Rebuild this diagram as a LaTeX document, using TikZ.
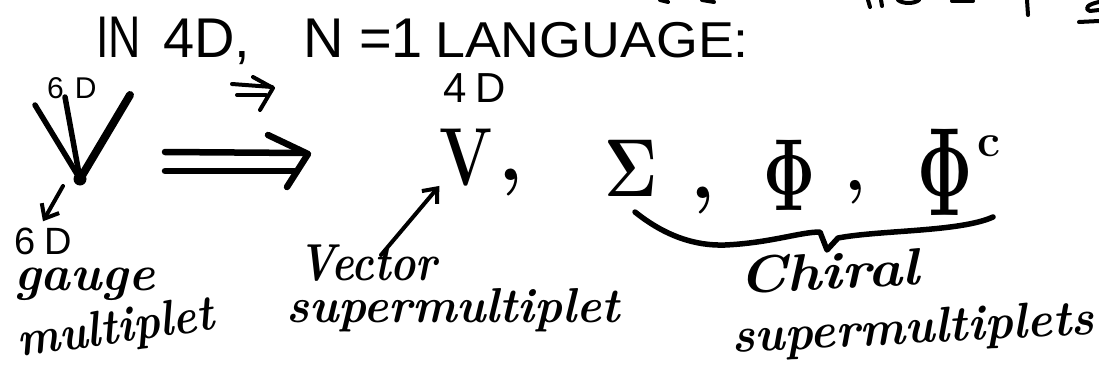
\documentclass[tikz,border=0pt]{standalone}
\usepackage{fontspec}
\usepackage{graphicx}
\setmainfont{Latin Modern Roman}
\newfontfamily\capsfont{Liberation Sans}
\usetikzlibrary{arrows.meta}
\tikzset{
  ink/.style={line width=5.5pt, line cap=round, line join=round},
  heavy/.style={line width=6.5pt, line cap=round, line join=round},
  thin ink/.style={line width=4pt, line cap=round, line join=round},
  barb/.style={-{Straight Barb[length=12pt,width=20pt,line width=4pt]}},
  caps/.style={font=\capsfont\fontsize{56}{60}\selectfont, inner sep=0pt, anchor=base west},
  hand/.style={font=\bfseries\itshape\fontsize{50}{54}\selectfont, inner sep=0pt, anchor=base west},
  sym/.style={inner sep=0pt, anchor=base}
}
\begin{document}
\begin{tikzpicture}[x=1pt,y=-1pt]
\useasboundingbox (0,0) rectangle (1099,369);

% cut-off strokes of a line above the picture
\draw[thin ink] (660,0) -- (668,2);
\draw[thin ink] (702,0) -- (714,2);
\draw[thin ink] (868,0) -- (870,7);
\draw[thin ink] (881,0) -- (882,6);
\draw[thin ink] (898,0) .. controls (903,4) and (914,4) .. (919,0);
\draw[thin ink] (952,1) -- (973,1);
\draw[thin ink] (1027,0) -- (1028,15);
\draw[thin ink] (1099,2) .. controls (1089,4) and (1083,8) .. (1090,11) -- (1099,10);
\draw[thin ink] (1079,22) -- (1099,21);

% title line
\node[caps] (tIN) at (96,58) {\scalebox{0.8}[1.05]{IN}};
\node[caps] (t4D) at (163,58) {4D,};
\node[caps] (tN) at (303,58) {N =1};
\node[caps] (tLang) at (435,58) {\scalebox{0.96}[0.9]{LANGUAGE:}};

% 6D vector figure
\node[caps, font=\capsfont\fontsize{30}{32}\selectfont] (six) at (47,98) {6\hspace{11pt}D};
\coordinate (vdot) at (80,179);
\draw[ink] (35,105) -- (vdot);
\draw[ink] (65,97) -- (vdot);
\draw[line width=8pt, line cap=round] (130,95) -- (vdot);
\fill (vdot) circle (6.5pt);

% small implies sign
\draw[thin ink] (232,84) -- (272,87);
\draw[thin ink] (237,95) -- (266,95);
\draw[thin ink] (253,77) -- (273,88) -- (260,110);

% big implies arrow
\coordinate (bigR) at (308,154);
\draw[heavy] (165,152) -- (304,153);
\draw[heavy] (165,171) -- (297,171);
\draw[heavy] (268,135) -- (bigR) -- (287,187);

% 4D side
\node[caps, font=\capsfont\fontsize{42}{44}\selectfont] (fourD) at (443,102) {4\hspace{9pt}D};
\node[sym, font=\bfseries\fontsize{80}{84}\selectfont] (V4) at (466,185) {\scalebox{0.78}[1.03]{V}};
\node[sym, font=\bfseries\fontsize{80}{84}\selectfont] (c1) at (511,180) {,};
\node[sym, font=\bfseries\fontsize{82}{86}\selectfont] (Sig) at (631,196) {\scalebox{0.8}[1]{Σ}};
\node[sym, font=\bfseries\fontsize{80}{84}\selectfont] (c2) at (703,198) {,};
\node[sym, font=\bfseries\fontsize{64}{68}\selectfont] (Phi) at (790,210) {\scalebox{1}[1.6]{Φ}};
\node[sym, font=\bfseries\fontsize{70}{74}\selectfont] (c3) at (855,190) {,};
\node[sym, font=\bfseries\fontsize{68}{72}\selectfont] (PhiC) at (945,215) {\scalebox{1}[1.85]{Φ}};
\node[sym, font=\bfseries\fontsize{46}{50}\selectfont] (sc) at (989,156) {c};

% brace under the chiral fields
\draw[ink] (635,212) .. controls (665,236) and (695,246) .. (725,245)
  .. controls (770,243) and (800,232) .. (820,232) -- (827,250) -- (838,238)
  .. controls (880,230) and (960,232) .. (993,217);

% labels
\node[caps, font=\capsfont\fontsize{38}{42}\selectfont] (sixb) at (14,254) {6\hspace{9pt}D};
\node[hand] (gauge) at (14,290) {\scalebox{1.0}[1]{gauge}};
\node[hand, rotate=8] (mult) at (19,357) {\scalebox{0.9}[1]{multiplet}};
\node[hand, font=\bfseries\itshape\fontsize{52}{56}\selectfont] (vector) at (298,280) {\scalebox{0.82}[1]{Vector}};
\node[hand, font=\bfseries\itshape\fontsize{49}{52}\selectfont] (vsuper) at (286,322) {\scalebox{0.96}[1]{supermultiplet}};
\node[hand, font=\bfseries\itshape\fontsize{52}{56}\selectfont, rotate=3] (chiral) at (739,294) {\scalebox{1.12}[1]{Chiral}};
\node[hand, font=\bfseries\itshape\fontsize{50}{54}\selectfont, rotate=3] (csuper) at (732,353) {\scalebox{0.96}[1]{supermultiplets}};

% connectors
\coordinate (dstart) at (63,186);
\draw[thin ink, barb] (dstart) -- ([yshift=6pt]sixb.north);
\coordinate (vstart) at (381,255);
\draw[thin ink, barb] (vstart) -- (V4.south west);
\end{tikzpicture}
\end{document}
